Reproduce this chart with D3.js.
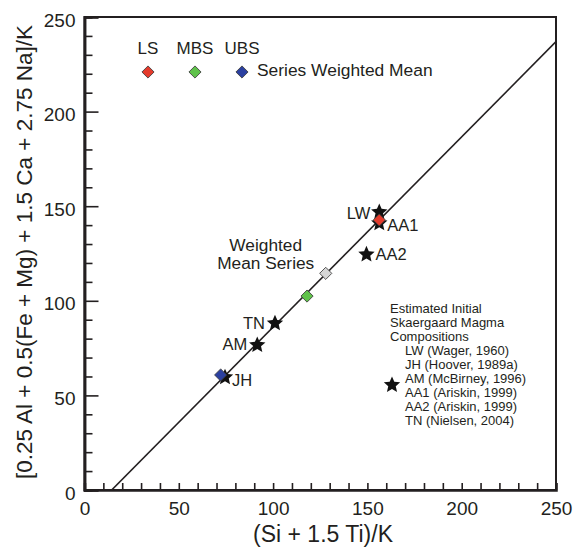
<!DOCTYPE html>
<html>
<head>
<meta charset="utf-8">
<script src="https://cdn.jsdelivr.net/npm/d3@7"></script>
<style>
  body { margin: 0; background: #fff; }
  svg text { font-family: "Liberation Sans", Arial, Helvetica, sans-serif; fill: #231f20; }
</style>
</head>
<body>
<div id="plot"></div>
<script>
// estimated initial magma compositions (stars)
const starNames = ["LW", "JH", "AM", "AA1", "AA2", "TN"];
const starX = [156.3, 74.5, 91.6, 156.3, 149.5, 101.0];
const starY = [146.9, 59.6, 76.6, 141.0, 124.5, 88.1];

// series weighted means (diamonds)
const meanNames = ["LS", "MBS", "UBS", "Weighted"];
const meanX = [156.3, 118.0, 72.2, 127.9];
const meanY = [142.7, 102.5, 60.8, 114.5];
const meanColors = ["#e43b2c", "#5fc24a", "#2b40a0", "#d6d6d6"];

// fitted line end points
const lineX = [14.4, 250];
const lineY = [0, 237];

const tickLabels = [0, 50, 100, 150, 200, 250];
const minorTicks = [10, 20, 30, 40, 60, 70, 80, 90, 110, 120, 130, 140, 160, 170, 180, 190, 210, 220, 230, 240];

const refs = ["LW (Wager, 1960)", "JH (Hoover, 1989a)", "AM (McBirney, 1996)",
              "AA1 (Ariskin, 1999)", "AA2 (Ariskin, 1999)", "TN (Nielsen, 2004)"];

const w = 577, h = 549;
const padLeft = 84.5, padRight = 556, padTop = 17, padBottom = 490;

const svg = d3.select("#plot").append("svg")
  .attr("width", w)
  .attr("height", h);

const xScale = d3.scaleLinear().domain([0, 250]).range([padLeft, padRight]);
const yScale = d3.scaleLinear().domain([0, 250]).range([padBottom, padTop]);

// frame
svg.append("rect")
  .attr("x", padLeft).attr("y", padTop)
  .attr("width", padRight - padLeft).attr("height", padBottom - padTop)
  .attr("fill", "none").attr("stroke", "#231f20").attr("stroke-width", 2);

// x axis, ticks inside
const xAxis = d3.axisBottom(xScale)
  .tickValues(d3.range(0, 251, 10))
  .tickSize(-7)
  .tickPadding(12)
  .tickFormat(d => d % 50 === 0 ? d : "");
const gx = svg.append("g")
  .attr("transform", "translate(0," + padBottom + ")")
  .call(xAxis);
gx.selectAll("text").attr("font-size", 19);

// y axis minor + major
const gyMinor = svg.append("g")
  .attr("transform", "translate(" + padLeft + ",0)")
  .call(d3.axisLeft(yScale).tickValues(minorTicks).tickSize(-8).tickFormat(""));
const gy = svg.append("g")
  .attr("transform", "translate(" + padLeft + ",0)")
  .call(d3.axisLeft(yScale).tickValues(tickLabels).tickSize(-14).tickPadding(9));
gy.selectAll("text").attr("font-size", 19).attr("dy", "0.48em");

[gx, gy, gyMinor].forEach(g => {
  g.select(".domain").attr("stroke", "#231f20").attr("stroke-width", 2.5);
  g.selectAll(".tick line").attr("stroke", "#231f20").attr("stroke-width", 1.6);
});

// axis titles
svg.append("text")
  .attr("x", 323).attr("y", 542)
  .attr("text-anchor", "middle")
  .attr("font-size", 23)
  .text("(Si + 1.5 Ti)/K");

svg.append("text")
  .attr("transform", "translate(32,252) rotate(-90)")
  .attr("text-anchor", "middle")
  .attr("font-size", 22.5)
  .text("[0.25 Al + 0.5(Fe + Mg) + 1.5 Ca + 2.75 Na]/K");

// line
svg.append("clipPath").attr("id", "clip")
  .append("rect").attr("x", padLeft).attr("y", padTop)
  .attr("width", padRight - padLeft).attr("height", padBottom - padTop);

svg.append("path")
  .datum(lineX.map((x, i) => [x, lineY[i]]))
  .attr("clip-path", "url(#clip)")
  .attr("fill", "none")
  .attr("stroke", "#231f20")
  .attr("stroke-width", 1.6)
  .attr("d", d3.line().x(d => xScale(d[0])).y(d => yScale(d[1])));

// a slightly fatter five point star than d3.symbolStar
const fatStar = {
  draw(context, size) {
    const R = Math.sqrt(size) * 0.95;
    const r = R * 0.46;
    for (let i = 0; i < 10; i++) {
      const a = -Math.PI / 2 + i * Math.PI / 5;
      const rad = i % 2 ? r : R;
      const px = rad * Math.cos(a), py = rad * Math.sin(a);
      if (i === 0) context.moveTo(px, py); else context.lineTo(px, py);
    }
    context.closePath();
  }
};

const diamond = d3.symbol().type(d3.symbolSquare).size(74);
const star = d3.symbol().type(fatStar).size(82);

// stars
const stars = starNames.map((n, i) => ({ name: n, x: starX[i], y: starY[i] }));
svg.selectAll(".star")
  .data(stars)
  .enter()
  .append("path")
  .attr("class", "star")
  .attr("d", star())
  .attr("transform", d => "translate(" + xScale(d.x) + "," + yScale(d.y) + ")")
  .attr("fill", "#111");

// weighted mean diamonds, drawn over the stars
const means = meanNames.map((n, i) => ({ name: n, x: meanX[i], y: meanY[i], color: meanColors[i] }));
svg.selectAll(".mean")
  .data(means)
  .enter()
  .append("path")
  .attr("class", "mean")
  .attr("d", diamond())
  .attr("transform", d => "translate(" + xScale(d.x) + "," + yScale(d.y) + ") rotate(45)")
  .attr("fill", d => d.color)
  .attr("stroke", "#3a3a3a")
  .attr("stroke-width", 0.8);

// star labels
const labelPos = {
  LW:  { dx: -9, dy: 7, anchor: "end" },
  JH:  { dx: 7,  dy: 9, anchor: "start" },
  AM:  { dx: -10, dy: 5, anchor: "end" },
  AA1: { dx: 8,  dy: 8, anchor: "start" },
  AA2: { dx: 9,  dy: 6, anchor: "start" },
  TN:  { dx: -10, dy: 6, anchor: "end" }
};
svg.selectAll(".starlabel")
  .data(stars)
  .enter()
  .append("text")
  .attr("class", "starlabel")
  .attr("x", d => xScale(d.x) + labelPos[d.name].dx)
  .attr("y", d => yScale(d.y) + labelPos[d.name].dy)
  .attr("text-anchor", d => labelPos[d.name].anchor)
  .attr("font-size", 16.5)
  .text(d => d.name);

// "Weighted Mean Series" label
const wm = means[3];
const wmText = svg.append("text")
  .attr("text-anchor", "middle")
  .attr("font-size", 17.3);
wmText.append("tspan")
  .attr("x", xScale(wm.x) - 60).attr("y", yScale(wm.y) - 22)
  .text("Weighted");
wmText.append("tspan")
  .attr("x", xScale(wm.x) - 60).attr("y", yScale(wm.y) - 4)
  .text("Mean Series");

// top legend
const legend = svg.append("g").attr("id", "legend");
const legX = [148, 195, 242];
meanNames.slice(0, 3).forEach((n, i) => {
  legend.append("text")
    .attr("x", legX[i]).attr("y", 54)
    .attr("text-anchor", "middle")
    .attr("font-size", 17)
    .text(n);
  legend.append("path")
    .attr("d", diamond())
    .attr("transform", "translate(" + legX[i] + ",72) rotate(45)")
    .attr("fill", meanColors[i])
    .attr("stroke", "#3a3a3a")
    .attr("stroke-width", 0.8);
});
legend.append("text")
  .attr("x", 257).attr("y", 76)
  .attr("font-size", 17.4)
  .text("Series Weighted Mean");

// reference block
const refBlock = svg.append("g").attr("font-size", 13);
["Estimated Initial", "Skaergaard Magma", "Compositions"].forEach((t, i) => {
  refBlock.append("text")
    .attr("x", 390).attr("y", 313 + i * 14)
    .text(t);
});
refs.forEach((t, i) => {
  refBlock.append("text")
    .attr("x", 405).attr("y", 313 + (i + 3) * 14)
    .text(t);
});
refBlock.append("path")
  .attr("d", star())
  .attr("transform", "translate(392,385)")
  .attr("fill", "#111");
</script>
</body>
</html>
